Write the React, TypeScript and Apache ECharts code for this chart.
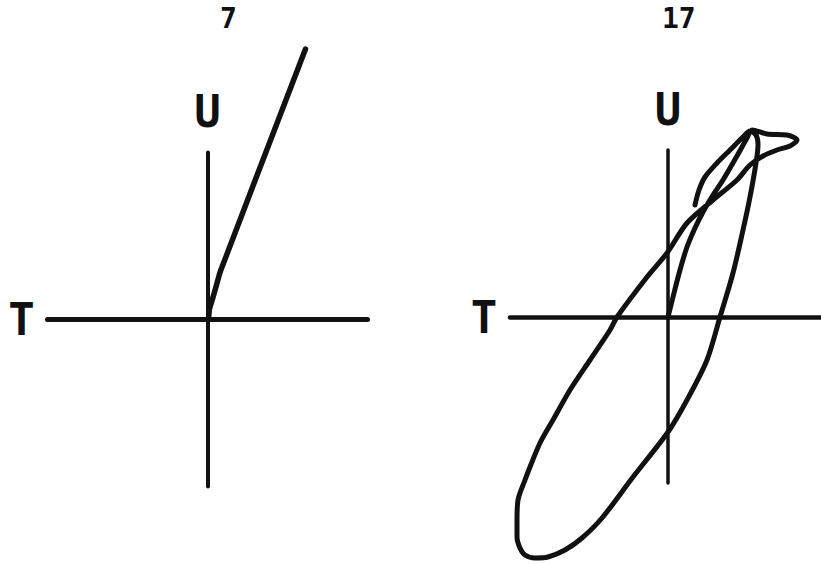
import React, { useEffect, useRef } from "react";
import * as echarts from "echarts";

// Panel captions (time step numbers)
const panelTitles = ["7", "17"];
// Axis names
const xAxisName = "T";
const yAxisName = "U";

// Panel "7": trajectory in the T–U plane
const panel7T = [0.01, 0.02, 0.05, 0.09, 0.13, 0.98];
const panel7U = [0.0, 0.1, 0.2, 0.34, 0.48, 2.7];

// Panel "17": trajectory in the T–U plane
const panel17T = [
  0.0, 0.05, 0.12, 0.19, 0.27, 0.35, 0.45, 0.55, 0.69, 0.79, 0.84,
  0.99, 1.19, 1.29, 1.22, 1.09, 0.95,
  0.82, 0.69, 0.45, 0.19, -0.01, -0.21, -0.51, -0.58, -0.78, -0.98, -1.15, -1.28, -1.38,
  -1.43, -1.5, -1.51, -1.51, -1.48, -1.43, -1.33, -1.2, -1.03, -0.86, -0.66,
  -0.35, 0.0, 0.19, 0.39, 0.52, 0.65, 0.75, 0.82, 0.88, 0.9, 0.88, 0.82,
  0.75, 0.62, 0.49, 0.37, 0.31, 0.27,
];
const panel17U = [
  0.0, 0.2, 0.47, 0.7, 0.89, 1.05, 1.22, 1.37, 1.61, 1.79, 1.87,
  1.83, 1.82, 1.77, 1.71, 1.67, 1.61,
  1.52, 1.37, 1.17, 0.94, 0.64, 0.4, 0.0, -0.13, -0.43, -0.73, -1.03, -1.26, -1.5,
  -1.63, -1.83, -2.03, -2.2, -2.31, -2.38, -2.41, -2.4, -2.33, -2.21, -2.01,
  -1.6, -1.15, -0.83, -0.43, 0.0, 0.44, 0.87, 1.2, 1.54, 1.72, 1.82, 1.86,
  1.8, 1.67, 1.54, 1.4, 1.27, 1.12,
];

const zip = (xs: number[], ys: number[]) => xs.map((x, i) => [x, ys[i]]);

const INK = "#111111";
const MONO = "'DejaVu Sans Mono', monospace";

function makeAxis(kind: "x" | "y", gridIndex: number, min: number, max: number, width: number) {
  const isX = kind === "x";
  return {
    type: "value",
    gridIndex,
    min,
    max,
    name: isX ? xAxisName : yAxisName,
    nameLocation: isX ? "start" : "end",
    nameGap: isX ? 26 : 41,
    nameTextStyle: {
      fontFamily: MONO,
      fontWeight: "bold",
      fontSize: 44,
      color: INK,
      align: "center",
      verticalAlign: "middle",
    },
    axisLine: { show: true, onZero: true, lineStyle: { color: INK, width } },
    axisTick: { show: false },
    axisLabel: { show: false },
    splitLine: { show: false },
  };
}

export default function App() {
  const ref = useRef<HTMLDivElement>(null);
  useEffect(() => {
    if (!ref.current) return;
    const chart = echarts.init(ref.current, null, { renderer: "svg" });
    chart.setOption({
      animation: false,
      backgroundColor: "#ffffff",
      title: [
        {
          text: panelTitles[0],
          left: 220,
          top: 4,
          padding: 0,
          textStyle: { fontFamily: MONO, fontWeight: "bold", fontSize: 28, color: INK },
        },
        {
          text: panelTitles[1],
          left: 662,
          top: 4,
          padding: 0,
          textStyle: { fontFamily: MONO, fontWeight: "bold", fontSize: 28, color: INK },
        },
      ],
      grid: [
        { left: 47.5, width: 320, top: 152.5, height: 334 },
        { left: 510, width: 311, top: 150, height: 333 },
      ],
      xAxis: [makeAxis("x", 0, -1.6, 1.6, 5), makeAxis("x", 1, -1.58, 1.53, 4.5)],
      yAxis: [makeAxis("y", 0, -1.675, 1.665, 4), makeAxis("y", 1, -1.66, 1.67, 3.5)],
      series: [
        {
          type: "line",
          xAxisIndex: 0,
          yAxisIndex: 0,
          data: zip(panel7T, panel7U),
          showSymbol: false,
          clip: false,
          smooth: 0.2,
          lineStyle: { color: INK, width: 5.5, cap: "round", join: "round" },
        },
        {
          type: "line",
          xAxisIndex: 1,
          yAxisIndex: 1,
          data: zip(panel17T, panel17U),
          showSymbol: false,
          clip: false,
          smooth: 0.3,
          lineStyle: { color: INK, width: 5, cap: "round", join: "round" },
        },
      ],
    });
    return () => chart.dispose();
  }, []);
  return (
    <div
      ref={ref}
      style={{ position: "fixed", left: 0, top: 0, width: 821, height: 564, background: "#fff" }}
    />
  );
}
